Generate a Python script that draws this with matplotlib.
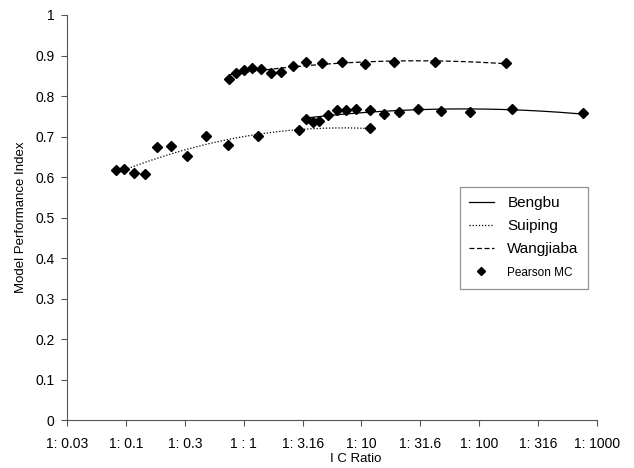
import numpy as np
import matplotlib
matplotlib.use("Agg")
import matplotlib.pyplot as plt
from matplotlib.lines import Line2D
from matplotlib.ticker import FuncFormatter

plt.rcParams["font.family"] = ["Liberation Sans", "DejaVu Sans"]

# I C ratio (x in 1:x) and model performance index
bengbu_x = [3.39, 3.86, 4.40, 5.18, 6.17, 7.45, 9.06, 11.7, 15.4, 20.8, 29.9, 47.0, 83.4, 191.0, 757.0]
bengbu_y = [0.744, 0.737, 0.739, 0.754, 0.766, 0.766, 0.767, 0.766, 0.757, 0.761, 0.769, 0.762, 0.761, 0.768, 0.758]

suiping_x = [0.0826, 0.097, 0.118, 0.145, 0.184, 0.241, 0.330, 0.474, 0.740, 1.32, 2.95, 11.8]
suiping_y = [0.618, 0.620, 0.610, 0.609, 0.675, 0.676, 0.652, 0.701, 0.680, 0.702, 0.716, 0.722]

wang_x = [0.750, 0.865, 1.007, 1.167, 1.403, 1.706, 2.089, 2.642, 3.404, 4.656, 6.792, 10.62, 18.71, 42.36, 169.8]
wang_y = [0.841, 0.856, 0.865, 0.870, 0.868, 0.857, 0.860, 0.873, 0.884, 0.882, 0.884, 0.879, 0.884, 0.884, 0.882]

tick_vals = [0.0316, 0.1, 0.316, 1, 3.16, 10, 31.6, 100, 316, 1000]
tick_labels = ["1: 0.03", "1: 0.1", "1: 0.3", "1 : 1", "1: 3.16", "1: 10", "1: 31.6", "1: 100", "1: 316", "1: 1000"]

fig = plt.figure(figsize=(6.34, 4.68), dpi=100)
ax = fig.add_axes([0.1057, 0.1015, 0.836, 0.8665])


def trend(x, y, **kw):
    # quadratic trend line in log10(x), like a spreadsheet trendline
    lx = np.log10(x)
    c = np.polyfit(lx, y, 2)
    t = np.linspace(lx.min(), lx.max(), 200)
    ax.plot(10 ** t, np.polyval(c, t), color="black", lw=0.9, **kw)


trend(bengbu_x, bengbu_y, linestyle="-")
trend(suiping_x, suiping_y, linestyle=(0, (1, 1.5)))
trend(wang_x, wang_y, linestyle=(0, (4, 2)))

for xs, ys in [(bengbu_x, bengbu_y), (suiping_x, suiping_y), (wang_x, wang_y)]:
    ax.plot(xs, ys, "D", color="black", markersize=5.3, linestyle="none")

ax.set_xscale("log")
ax.set_xlim(10 ** -1.5, 1000)
ax.set_ylim(0, 1)
ax.set_xticks(tick_vals)
ax.set_xticklabels(tick_labels)
ax.minorticks_off()
ax.set_yticks(np.arange(0, 1.01, 0.1))
ax.yaxis.set_major_formatter(FuncFormatter(lambda v, p: f"{v:g}"))
ax.tick_params(labelsize=10, length=4, color="#555555")
ax.tick_params(axis="x", pad=8)
ax.tick_params(axis="y", pad=5)

for s in ["top", "right"]:
    ax.spines[s].set_visible(False)
for s in ["left", "bottom"]:
    ax.spines[s].set_color("#555555")

ax.set_ylabel("Model Performance Index", fontsize=9.5, labelpad=6)
ax.set_xlabel("I C Ratio", fontsize=9.5)
ax.xaxis.set_label_coords(0.545, -0.081)

handles = [
    Line2D([], [], color="black", lw=0.9, linestyle="-"),
    Line2D([], [], color="black", lw=0.9, linestyle=(0, (1, 1.5))),
    Line2D([], [], color="black", lw=0.9, linestyle=(0, (4, 2))),
    Line2D([], [], color="black", marker="D", markersize=4, linestyle="none"),
]
leg = ax.legend(handles, ["Bengbu", "Suiping", "Wangjiaba", "Pearson MC"],
                loc="upper left", bbox_to_anchor=(460 / 634, 1 - 187 / 468),
                bbox_transform=fig.transFigure, borderaxespad=0, fontsize=11,
                frameon=True, fancybox=False, edgecolor="#777777",
                handlelength=1.6, handletextpad=0.9, labelspacing=0.6,
                borderpad=0.6)
leg.get_frame().set_linewidth(0.9)
leg.get_texts()[3].set_fontsize(8.5)

fig.savefig("out.png", dpi=100)
